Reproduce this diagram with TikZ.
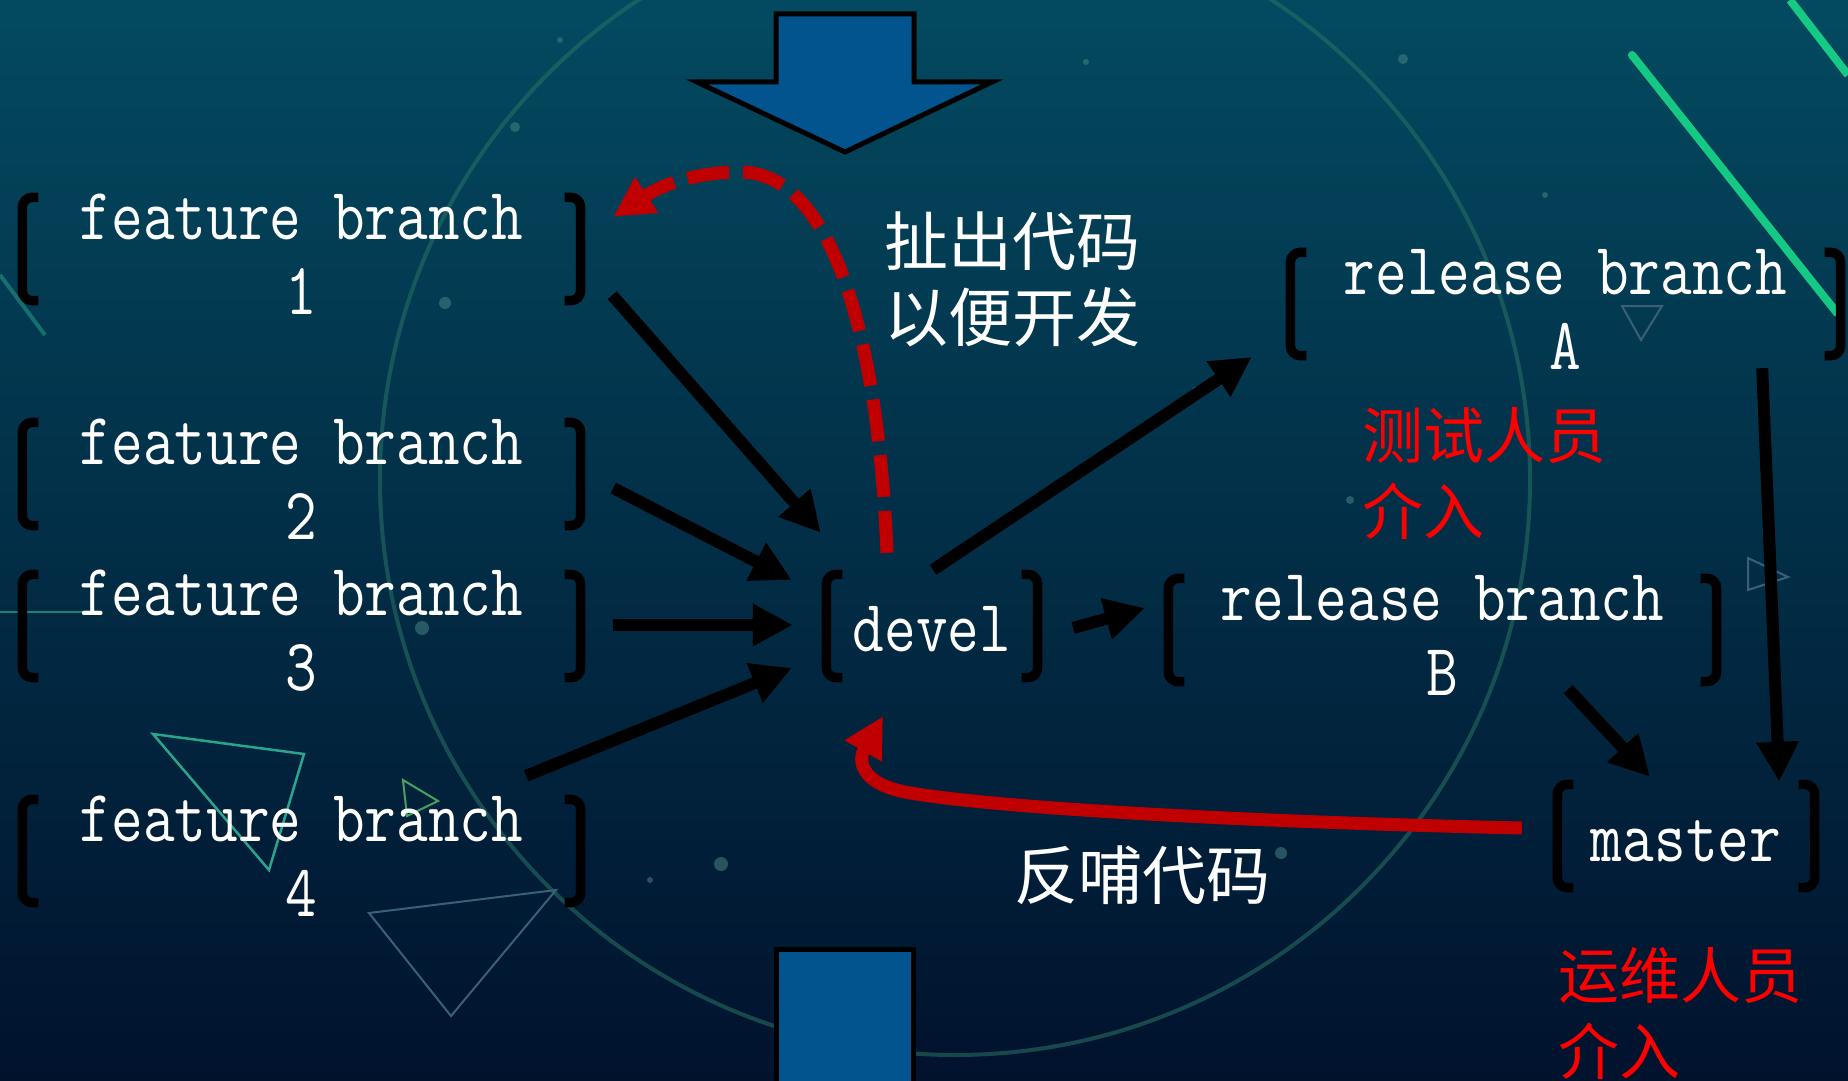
\documentclass[tikz,border=0pt]{standalone}
\usepackage{fontspec}
\usepackage{graphicx}
\usetikzlibrary{arrows.meta,calc}
\newfontfamily\cjk{Noto Sans CJK SC}
\definecolor{bgtop}{RGB}{3,74,96}
\definecolor{bgmid}{RGB}{2,52,76}
\definecolor{bgbot}{RGB}{1,18,45}
\definecolor{arrblue}{RGB}{2,84,143}
\definecolor{darkred}{RGB}{192,0,0}
\definecolor{deco}{RGB}{40,115,100}
\definecolor{neon}{RGB}{25,225,140}
\definecolor{tri}{RGB}{40,165,140}
\definecolor{trigreen}{RGB}{70,160,100}
\definecolor{trifaint}{RGB}{60,95,120}
\definecolor{dotcol}{RGB}{70,130,130}
\newcommand\st[1]{\scalebox{1}[1.2]{#1}}
\newcommand\drawbrk[1]{%
  \draw[brk] ([xshift=16pt]#1.north west) -- (#1.north west) -- (#1.south west) -- ([xshift=16pt]#1.south west);
  \draw[brk] ([xshift=-16pt]#1.north east) -- (#1.north east) -- (#1.south east) -- ([xshift=-16pt]#1.south east);}
\tikzset{
  box/.style={rectangle, inner sep=0pt, minimum height=103pt},
  txt/.style={inner sep=0pt, text=white, align=center,
    font=\ttfamily\fontsize{61.5}{75}\selectfont},
  brk/.style={line width=9.5pt, black, rounded corners=10pt},
  blk/.style={line width=12pt, black, -{Triangle[length=40pt,width=40pt]}},
  redd/.style={line width=13pt, darkred, dash pattern=on 42pt off 14pt, -{Triangle[length=40pt,width=40pt]}},
  reds/.style={line width=13pt, darkred, -{Triangle[length=40pt,width=40pt]}},
  cjkw/.style={inner sep=0pt, anchor=north west, align=left, text=white, font=\cjk\fontsize{64}{76}\selectfont},
  cjkr/.style={inner sep=0pt, anchor=north west, align=left, text=red, font=\cjk\fontsize{61}{76}\selectfont},
  bigarrow/.style={fill=arrblue, draw=black, line width=5pt, line join=miter},
  dot/.style={fill=dotcol, opacity=0.55}
}
\begin{document}
\begin{tikzpicture}[x=1pt,y=-1pt]
\useasboundingbox (0,0) rectangle (1848,1081);
% background
\shade[top color=bgtop, middle color=bgmid, bottom color=bgbot] (0,0) rectangle (1848,1081);
\draw[deco, line width=4pt, opacity=0.55] (955,480) circle[radius=575pt];
\draw[neon, line width=8pt, line cap=round, opacity=0.85] (1632,55) -- (1837,313);
\draw[neon, line width=8pt, opacity=0.85] (1790,0) -- (1848,75);
\draw[tri, line width=4pt, opacity=0.5] (0,275) -- (45,335);
\draw[tri, line width=2pt, opacity=0.7] (0,612) -- (87,612);
\draw[tri, line width=2.5pt] (153,734) -- (304,754) -- (269,870) -- cycle;
\draw[trigreen, line width=2pt] (403,780) -- (438,801) -- (407,816) -- cycle;
\draw[trifaint, line width=2pt] (369,913) -- (556,890) -- (451,1016) -- cycle;
\draw[trifaint, line width=2pt] (1622,306) -- (1662,306) -- (1641,340) -- cycle;
\draw[trifaint, line width=2pt] (1748,558) -- (1788,577) -- (1748,590) -- cycle;
\foreach \p/\r in {(515,127)/5,(445,303)/6,(422,628)/7,(721,864)/7,(1281,853)/6,(1403,59)/5,(1086,62)/3,(1545,195)/3,(1350,500)/4,(560,40)/3,(1195,390)/3,(650,880)/3}
  \fill[dot] \p circle[radius=\r pt];
% big blue arrows
\draw[bigarrow] (776,14) -- (914,14) -- (914,82) -- (992,82) -- (845,152) -- (697,82) -- (776,82) -- cycle;
\draw[bigarrow] (776,949) -- (913,949) -- (913,1095) -- (776,1095) -- cycle;
% boxes
\node[box, minimum width=558pt, label={[txt]center:{\rule{0pt}{55pt}\st{feature branch}\\\st{1}}}] (f1) at (301.5,249) {};
\node[box, minimum width=558pt, label={[txt]center:{\rule{0pt}{55pt}\st{feature branch}\\\st{2}}}] (f2) at (301.5,474) {};
\node[box, minimum width=558pt, label={[txt]center:{\rule{0pt}{55pt}\st{feature branch}\\\st{3}}}] (f3) at (301.5,626) {};
\node[box, minimum width=558pt, label={[txt]center:{\rule{0pt}{55pt}\st{feature branch}\\\st{4}}}] (f4) at (301.5,851) {};
\node[box, minimum width=211pt, label={[txt]center:{\rule{0pt}{52pt}\st{devel}}}] (devel) at (932,626) {};
\node[box, minimum width=548pt, label={[txt]center:{\rule{0pt}{55pt}\st{release branch}\\\st{B}}}] (relB) at (1442.5,630) {};
\node[box, minimum width=550pt, label={[txt]center:{\rule{0pt}{55pt}\st{release branch}\\\st{A}}}] (relA) at (1565.5,304) {};
\node[box, minimum width=257pt, label={[txt]center:{\rule{0pt}{52pt}\st{master}}}] (master) at (1686,836) {};
\drawbrk{f1}\drawbrk{f2}\drawbrk{f3}\drawbrk{f4}
\drawbrk{devel}\drawbrk{relB}\drawbrk{relA}\drawbrk{master}
% labels
\node[cjkw] (pull) at (884,212) {扯出代码\\以便开发};
\node[cjkw] (back) at (1014,846) {反哺代码};
\node[cjkr] (test) at (1362,407) {测试人员\\介入};
\node[cjkr] (ops) at (1558,947) {运维人员\\介入};
% black arrows
\draw[blk] ($(f1.south east)+(31.5,-5.5)$) -- ($(devel.north west)+(-5.5,-41.5)$);
\draw[blk] ($(f2.east)+(32.5,14)$) -- ($(devel.west)+(-34.5,-46)$);
\draw[blk] ($(f3.east)+(32.5,-1)$) -- ($(devel.west)+(-33.5,-1)$);
\draw[blk] ($(f4.north east)+(-54.5,-23.5)$) -- ($(devel.west)+(-34.5,42)$);
\draw[blk] ($(devel.north)+(1,-4.5)$) -- ($(relA.west)+(-38.5,53)$);
\draw[blk] ($(devel.east)+(35.5,2)$) -- ($(relB.west)+(-23.5,-22)$);
\draw[blk] ($(relB.south east)+(-148.5,7.5)$) -- ($(master.north)+(-36,-7.5)$);
\draw[blk] ($(relA.south east)+(-78.5,12.5)$) -- ($(master.north east)+(-35.5,-2.5)$);
% red arrows
\draw[redd] ($(devel.north)+(-45,-21.5)$) .. controls (878,330) and (830,172) .. (740,172)
  .. controls (700,172) and (665,183) .. ($(f1.north east)+(32.5,19.5)$);
\draw[reds] ($(master.west)+(-35.5,-8)$) .. controls (1250,822) and (990,808) .. (905,792)
  .. controls (860,783) and (858,760) .. ($(devel.south)+(-49,38.5)$);
\end{tikzpicture}
\end{document}
